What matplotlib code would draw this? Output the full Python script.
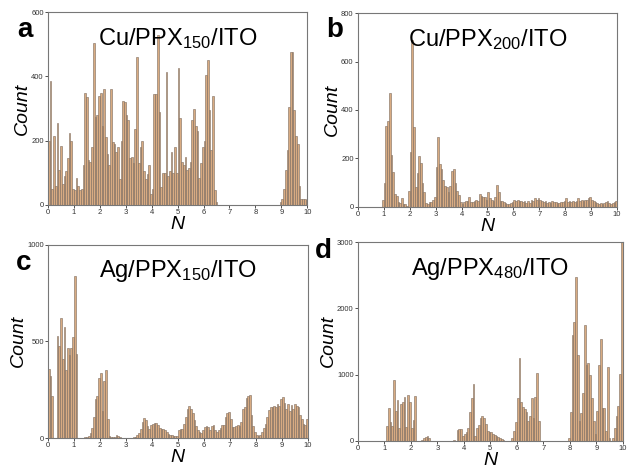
import numpy as np
import matplotlib

matplotlib.use("Agg")
import matplotlib.pyplot as plt

plt.rcParams["font.family"] = ["Liberation Sans", "DejaVu Sans"]
plt.rcParams["mathtext.default"] = "regular"

# ── Histogram counts, 150 bins over N = 0..10 (bin width 1/15) ───────────────
cu_150 = [
    200, 385, 50, 215, 60, 255, 110, 185, 65, 90, 105, 145, 225, 200, 50,
    45, 85, 60, 45, 50, 125, 350, 335, 140, 135, 180, 505, 275, 280, 340,
    350, 245, 360, 210, 160, 125, 360, 195, 190, 165, 180, 80, 200, 325, 320,
    280, 265, 145, 150, 130, 235, 460, 130, 180, 200, 105, 80, 95, 125, 35,
    50, 345, 345, 530, 290, 55, 100, 100, 415, 90, 105, 165, 100, 180, 100,
    425, 270, 135, 125, 150, 110, 115, 135, 265, 300, 245, 230, 85, 130, 180,
    200, 405, 450, 295, 170, 340, 45, 10, 0, 0, 0, 0, 0, 0, 0,
    0, 0, 0, 0, 0, 0, 0, 0, 0, 0, 0, 0, 0, 0, 0,
    0, 0, 0, 0, 0, 0, 0, 0, 0, 0, 0, 0, 0, 0, 10,
    20, 50, 110, 170, 305, 475, 475, 295, 215, 190, 60, 20, 20, 20, 15,
]
cu_200 = [
    0, 0, 0, 0, 0, 0, 0, 0, 0, 0, 0, 0, 0, 0, 30,
    100, 335, 355, 470, 215, 145, 55, 45, 20, 15, 35, 10, 10, 5, 65,
    225, 690, 330, 80, 140, 210, 180, 100, 60, 15, 10, 20, 20, 30, 40,
    165, 290, 175, 155, 110, 85, 80, 60, 85, 150, 155, 100, 65, 50, 20,
    10, 20, 25, 25, 40, 20, 20, 25, 30, 25, 55, 45, 40, 40, 30,
    60, 35, 30, 25, 40, 90, 60, 25, 25, 20, 15, 10, 10, 15, 20,
    30, 25, 30, 25, 25, 20, 25, 15, 25, 15, 30, 25, 35, 30, 35,
    30, 25, 20, 25, 15, 20, 15, 25, 20, 20, 15, 15, 20, 20, 25,
    35, 20, 25, 20, 25, 20, 25, 35, 25, 30, 25, 30, 30, 35, 40,
    30, 25, 20, 15, 10, 15, 10, 15, 20, 25, 15, 10, 15, 20, 25,
]
ag_150 = [
    355, 320, 220, 0, 0, 530, 475, 620, 410, 575, 350, 465, 430, 465, 525,
    840, 435, 0, 0, 0, 0, 5, 5, 10, 25, 50, 110, 200, 220, 310,
    335, 140, 295, 350, 100, 10, 5, 5, 5, 15, 10, 5, 0, 0, 0,
    0, 0, 0, 0, 5, 5, 15, 25, 45, 85, 105, 95, 60, 45, 70,
    75, 80, 80, 70, 50, 45, 45, 40, 30, 20, 15, 15, 10, 10, 10,
    40, 45, 45, 75, 110, 150, 165, 150, 130, 95, 60, 40, 30, 25, 40,
    55, 60, 55, 40, 60, 70, 40, 30, 40, 50, 65, 65, 110, 130, 135,
    100, 55, 55, 60, 65, 60, 85, 150, 160, 205, 220, 225, 120, 60, 30,
    15, 10, 15, 30, 50, 75, 110, 145, 160, 160, 165, 160, 175, 165, 200,
    210, 180, 150, 175, 140, 170, 150, 175, 165, 160, 120, 100, 75, 65, 100,
]
ag_480 = [
    0, 0, 0, 0, 0, 0, 0, 0, 0, 0, 0, 0, 0, 0, 0,
    0, 230, 490, 280, 220, 920, 450, 610, 200, 560, 580, 660, 210, 690, 590,
    200, 310, 670, 0, 0, 0, 20, 40, 60, 80, 40, 0, 0, 0, 0,
    0, 0, 0, 0, 0, 0, 0, 0, 5, 10, 0, 170, 180, 175, 80,
    100, 130, 200, 440, 640, 860, 80, 200, 240, 350, 380, 340, 260, 150, 140,
    130, 110, 90, 70, 60, 50, 30, 10, 0, 0, 0, 0, 50, 150, 280,
    650, 1250, 590, 510, 480, 430, 300, 380, 650, 350, 660, 1020, 300, 0, 0,
    0, 0, 0, 0, 0, 0, 0, 0, 0, 0, 0, 0, 0, 0, 50,
    440, 1600, 1790, 2470, 1300, 300, 420, 720, 1750, 1150, 1170, 1000, 650, 300, 100,
    450, 1150, 1540, 500, 500, 150, 1120, 50, 0, 50, 200, 380, 520, 1010, 3100,
]

titles = [
    "Cu/PPX$_{150}$/ITO",
    "Cu/PPX$_{200}$/ITO",
    "Ag/PPX$_{150}$/ITO",
    "Ag/PPX$_{480}$/ITO",
]
letters = ["a", "b", "c", "d"]
y_max = [600, 800, 1000, 3000]
y_ticks = [[0, 200, 400, 600], [0, 200, 400, 600, 800], [0, 500, 1000], [0, 1000, 2000, 3000]]
x_ticks = list(range(0, 11))

# axes boxes [left, bottom, width, height] in figure fraction
boxes = [
    [0.076, 0.563, 0.411, 0.411],
    [0.567, 0.559, 0.411, 0.413],
    [0.076, 0.066, 0.412, 0.412],
    [0.567, 0.060, 0.420, 0.424],
]
letter_pos = [(0.040, 0.937), (0.530, 0.937), (0.038, 0.440), (0.512, 0.465)]

FACE = "#d8ab82"
EDGE = "#7b6a5d"

fig = plt.figure(figsize=(6.31, 4.69), dpi=100)
for counts, title, letter, ymax, yt, box, lp in zip(
    [cu_150, cu_200, ag_150, ag_480], titles, letters, y_max, y_ticks, boxes, letter_pos
):
    ax = fig.add_axes(box)
    counts = np.array(counts)
    width = 10 / len(counts)
    centers = (np.arange(len(counts)) + 0.5) * width
    ax.bar(centers, counts, width=width, color=FACE, edgecolor=EDGE, linewidth=0.4)
    ax.set_xlim(0, 10)
    ax.set_ylim(0, ymax)
    ax.set_xticks(x_ticks)
    ax.set_yticks(yt)
    ax.tick_params(labelsize=5.5, length=2, width=0.6, pad=1, colors="#333333")
    for s in ax.spines.values():
        s.set_color("#777777")
        s.set_linewidth(0.8)
    ax.set_ylabel("Count", fontsize=14, style="italic", labelpad=0)
    ax.set_xlabel("N", fontsize=14, style="italic", labelpad=0)
    ax.text(0.5, 0.93, title, transform=ax.transAxes, ha="center", va="top", fontsize=17)
    fig.text(lp[0], lp[1], letter, fontsize=20, fontweight="bold", ha="center", va="center")

plt.savefig("out.png", dpi=100)
